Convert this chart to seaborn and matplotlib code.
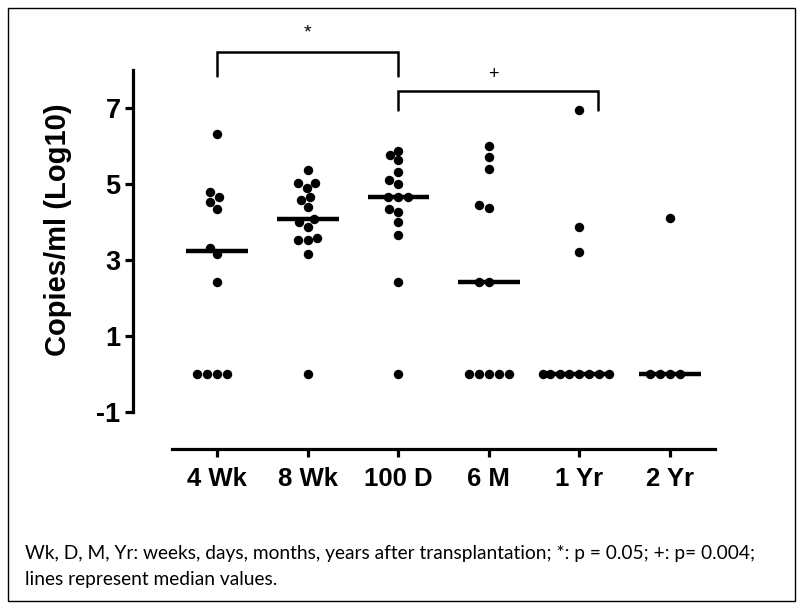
import numpy as np
import pandas as pd
import matplotlib
matplotlib.use("Agg")
import matplotlib.pyplot as plt
from matplotlib.patches import Rectangle
import seaborn as sns

groups = ["4 Wk", "8 Wk", "100 D", "6 M", "1 Yr", "2 Yr"]
wk4 = [6.32, 4.78, 4.65, 4.52, 4.34, 3.32, 3.15, 2.42, 0, 0, 0, 0]
wk8 = [5.37, 5.03, 5.03, 4.89, 4.66, 4.58, 4.40, 4.07, 4.00, 3.87, 3.59, 3.52, 3.52, 3.16, 0]
d100 = [5.88, 5.75, 5.62, 5.31, 5.11, 5.00, 4.65, 4.65, 4.65, 4.34, 4.25, 3.99, 3.65, 2.42, 0]
m6 = [6.00, 5.71, 5.40, 4.44, 4.36, 2.42, 2.42, 0, 0, 0, 0, 0]
yr1 = [6.94, 3.87, 3.21, 0, 0, 0, 0, 0, 0, 0, 0]
yr2 = [4.10, 0, 0, 0, 0]
series = [wk4, wk8, d100, m6, yr1, yr2]

y_ticks = [-1, 1, 3, 5, 7]
ylabel = "Copies/ml (Log10)"
caption1 = "Wk, D, M, Yr: weeks, days, months, years after transplantation; *: p = 0.05; +: p= 0.004;"
caption2 = "lines represent median values."

df = pd.DataFrame({
    "group": [g for g, s in zip(groups, series) for _ in s],
    "value": [v for s in series for v in s],
})

sns.set_style("white")
plt.rcParams["font.family"] = ["Liberation Sans", "DejaVu Sans"]
for k in ["text.color", "axes.labelcolor", "xtick.color", "ytick.color"]:
    plt.rcParams[k] = "black"

fig = plt.figure(figsize=(8, 6.07), dpi=100)
ax = fig.add_axes([0.215, 0.3213, 0.679, 0.5634])

sns.boxplot(data=df, x="group", y="value", order=groups, ax=ax,
            showbox=False, showcaps=False, showfliers=False, whis=0,
            width=0.68, medianprops={"color": "black", "linewidth": 3.2},
            whiskerprops={"visible": False})
sns.swarmplot(data=df, x="group", y="value", order=groups, ax=ax,
              color="black", size=6.8, linewidth=0)

ax.set_xlim(-0.5, 5.5)
ax.set_ylim(-1, 8)
ax.set_yticks(y_ticks)
ax.set_yticklabels([str(t) for t in y_ticks])
ax.set_xlabel("")
ax.set_ylabel("")
for s in ["top", "right"]:
    ax.spines[s].set_visible(False)
for s in ["left", "bottom"]:
    ax.spines[s].set_linewidth(2.3)
    ax.spines[s].set_color("black")
ax.spines["bottom"].set_position(("outward", 26.6))
ax.spines["left"].set_position(("outward", 28))
ax.tick_params(axis="x", which="both", length=6, width=2.3, color="black",
               labelcolor="black", labelsize=18.5, pad=7, bottom=True)
ax.tick_params(axis="y", which="both", length=6, width=2.3, color="black",
               labelcolor="black", labelsize=19.5, pad=3, left=True)
for lab in ax.get_xticklabels() + ax.get_yticklabels():
    lab.set_fontweight("bold")

fig.text(58 / 800, 1 - 230 / 607, ylabel, rotation=90, ha="center", va="center",
         fontsize=21, fontweight="bold")

# significance brackets
ax.plot([0, 0, 2, 2], [7.84, 8.47, 8.47, 7.84], color="black", lw=1.8,
        clip_on=False, solid_joinstyle="miter")
ax.text(1, 8.98, "*", ha="center", va="center", fontsize=14)
ax.plot([2, 2, 4.2, 4.2], [6.94, 7.45, 7.45, 6.94], color="black", lw=1.8,
        clip_on=False, solid_joinstyle="miter")
ax.text(3.05, 7.87, "+", ha="center", va="center", fontsize=13)

fig.text(25 / 800, 1 - 553 / 607, caption1, ha="left", va="center",
         fontsize=13.75, family=["Lato", "DejaVu Sans"])
fig.text(25 / 800, 1 - 580 / 607, caption2, ha="left", va="center",
         fontsize=13.75, family=["Lato", "DejaVu Sans"])

fig.add_artist(Rectangle((8 / 800, 6 / 607), (795 - 8) / 800, (601 - 8) / 607,
                         transform=fig.transFigure, fill=False, lw=1,
                         edgecolor="black"))

fig.savefig("out.png", dpi=100)
